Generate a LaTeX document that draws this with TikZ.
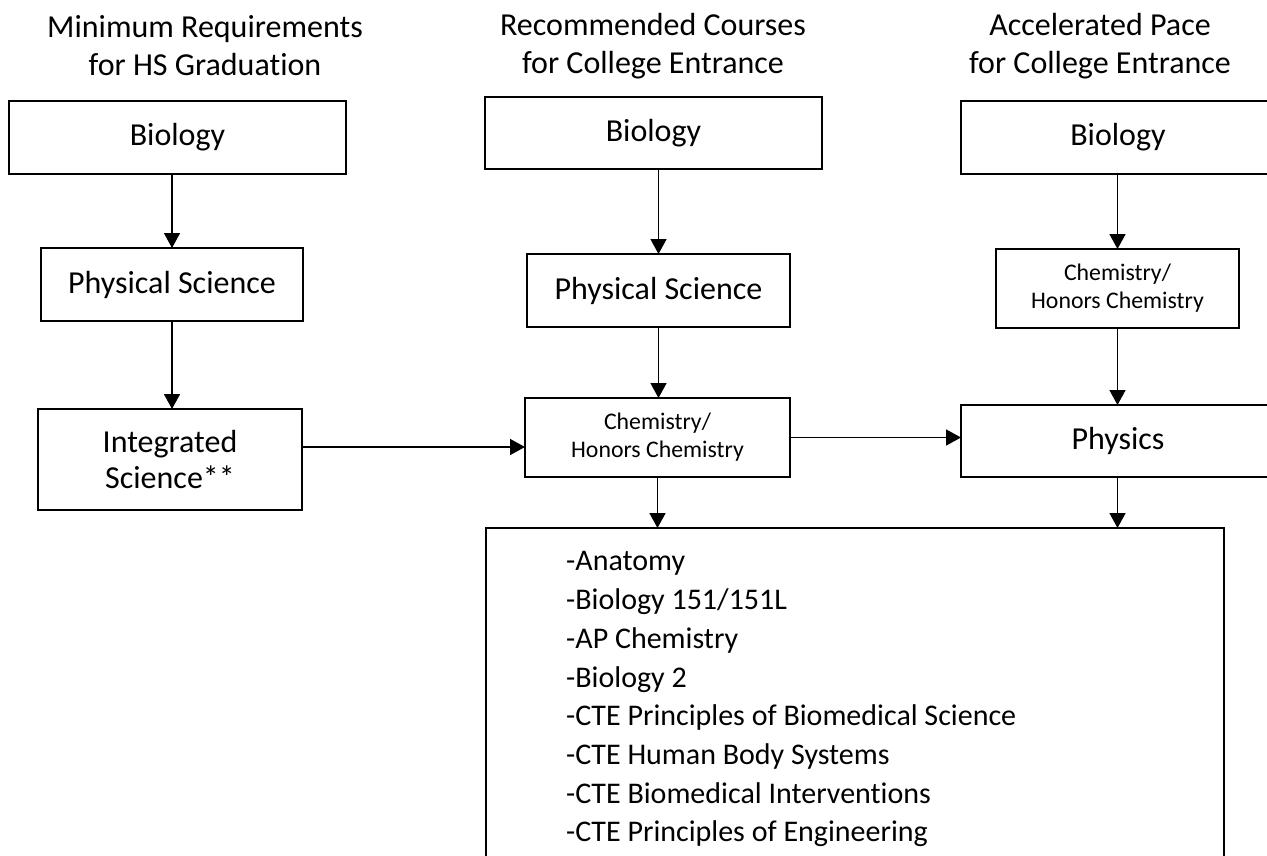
\documentclass[tikz,border=0pt]{standalone}
\usepackage{fontspec}
\setmainfont{Carlito}[Ligatures=NoCommon]
\usetikzlibrary{arrows.meta}
\begin{document}
\begin{tikzpicture}[x=1pt,y=-1pt,
  box/.style={draw,line width=1.8pt,inner sep=0pt,outer sep=0pt,align=center,font=\fontsize{32}{36.5}\selectfont},
  smallbox/.style={box,font=\fontsize{23.8}{28}\selectfont},
  heading/.style={align=center,inner sep=0pt,font=\fontsize{32}{38}\selectfont},
  arr/.style={line width=1.6pt,-{Triangle[width=16pt,length=15pt]}},
  conn/.style={line width=1.6pt}]
\clip (0,0) rectangle (1267,855);
\fill[white] (0,0) rectangle (1267,855);
% headings
\node[heading] (h1) at (205,46) {Minimum Requirements\\for HS Graduation};
\node[heading] (h2) at (653,46) {Recommended Courses\\for College Entrance};
\node[heading] (h3) at (1100,46) {Accelerated Pace\\for College Entrance};
% left column
\node[box,minimum width=337pt,minimum height=73pt] (lbio) at (177.5,137.5) {Biology};
\node[box,minimum width=262pt,minimum height=73pt] (lphys) at (172,284.5) {Physical Science};
\node[box,minimum width=264pt,minimum height=101pt] (linteg) at (170,459.5) {Integrated\\Science**};
% middle column
\node[box,minimum width=337pt,minimum height=72pt] (mbio) at (653.5,133) {Biology};
\node[box,minimum width=263pt,minimum height=73pt] (mphys) at (658.5,290.5) {Physical Science};
\node[smallbox,minimum width=265pt,minimum height=79pt] (mchem) at (657.5,437.5) {Chemistry/\\Honors Chemistry};
% right column
\node[box,minimum width=337pt,minimum height=73pt] (rbio) at (1129.5,137.5) {\hspace*{-23pt}Biology};
\node[smallbox,minimum width=243pt,minimum height=79pt] (rchem) at (1117.5,288.5) {Chemistry/\\Honors Chemistry};
\node[box,minimum width=337pt,minimum height=72pt] (rphys) at (1129.5,441) {\hspace*{-23pt}Physics};
% list box
\node[draw,line width=1.8pt,inner sep=0pt,outer sep=0pt,minimum width=738pt,minimum height=400pt] (list) at (855,728) {};
\node[anchor=north west,align=left,inner sep=0pt,font=\fontsize{30}{38.7}\selectfont] (items) at (566,551.5)
 {-Anatomy\\-Biology 151/151L\\-AP Chemistry\\-Biology 2\\-CTE Principles of Biomedical Science\\-CTE Human Body Systems\\-CTE Biomedical Interventions\\-CTE Principles of Engineering};
% connectors
\draw[arr] (lbio.south -| lphys.north) -- (lphys.north);
\draw[arr] (lphys.south) -- (lphys.south |- linteg.north);
\draw[arr] (mbio.south -| mphys.north) -- (mphys.north);
\draw[arr] (mphys.south) -- (mphys.south |- mchem.north);
\draw[arr] (rbio.south -| rchem.north) -- (rchem.north);
\draw[arr] (rchem.south) -- (rchem.south |- rphys.north);
\coordinate (ly) at (0,447);
\draw[arr] (linteg.east |- ly) -- (mchem.west |- ly);
\draw[arr] (mchem.east) -- (rphys.west |- mchem.east);
\draw[arr] (mchem.south) -- (mchem.south |- list.north);
\draw[arr] (rchem.south |- rphys.south) -- (rchem.south |- list.north);
\end{tikzpicture}
\end{document}
